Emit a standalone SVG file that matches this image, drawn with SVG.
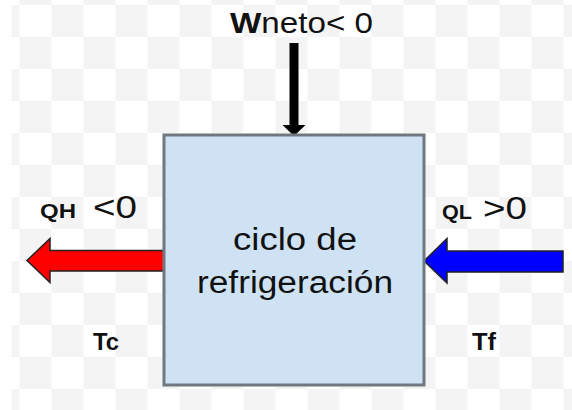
<svg xmlns="http://www.w3.org/2000/svg" width="572" height="410" viewBox="0 0 572 410">
<style>
.lbl{font-family:"Liberation Sans",Arial,sans-serif;fill:#111}
.b{font-weight:bold}
.arrow{stroke:#222;stroke-width:1.5;stroke-linejoin:miter}
</style>
<defs>
<pattern id="chk" patternUnits="userSpaceOnUse" x="19.5" y="5" width="64" height="64">
<rect x="0" y="0" width="64" height="64" fill="#ffffff"/>
<rect x="32" y="0" width="32" height="32" fill="#f4f4f4"/>
<rect x="0" y="32" width="32" height="32" fill="#f4f4f4"/>
</pattern>
</defs>
<rect width="572" height="410" fill="#ffffff"/>
<rect x="11.5" y="0" width="560.5" height="410" fill="url(#chk)"/>
<g id="connectors">
<polygon id="work-arrow" points="289.5,43 298.5,43 298.5,125 305.5,125 294,136 282.5,125 289.5,125" fill="#000"/>
<polygon id="qh-arrow" class="arrow" points="166,250.5 50,250.5 50,238.5 27,260.5 50,282.5 50,271 166,271" fill="#ff0000"/>
<polygon id="ql-arrow" class="arrow" points="563,251 447,251 447,238.5 424,261 447,283 447,272 563,272" fill="#0000ff"/>
</g>
<g id="cycle">
<rect x="164" y="135" width="260" height="250" fill="#cfe2f3" stroke="#6f7880" stroke-width="3"/>
<text class="lbl" x="233" y="250" font-size="31" textLength="124" lengthAdjust="spacingAndGlyphs">ciclo de</text>
<text class="lbl" x="197" y="293" font-size="31" textLength="196" lengthAdjust="spacingAndGlyphs">refrigeración</text>
</g>
<g id="work-label">
<text class="lbl" x="230" y="33" font-size="30" textLength="143" lengthAdjust="spacingAndGlyphs"><tspan class="b">W</tspan>neto&lt; 0</text>
</g>
<g id="qh-label">
<text class="lbl b" x="40" y="218" font-size="20" textLength="36" lengthAdjust="spacingAndGlyphs">QH</text>
<text class="lbl" x="93" y="218" font-size="32" textLength="44" lengthAdjust="spacingAndGlyphs">&lt;0</text>
</g>
<g id="ql-label">
<text class="lbl b" x="442" y="219" font-size="20" textLength="30" lengthAdjust="spacingAndGlyphs">QL</text>
<text class="lbl" x="483" y="219" font-size="32" textLength="44" lengthAdjust="spacingAndGlyphs">&gt;0</text>
</g>
<g id="tc-label">
<text class="lbl b" x="93" y="350" font-size="23" textLength="26" lengthAdjust="spacingAndGlyphs">Tc</text>
</g>
<g id="tf-label">
<text class="lbl b" x="472" y="350" font-size="23" textLength="24" lengthAdjust="spacingAndGlyphs">Tf</text>
</g>
</svg>
